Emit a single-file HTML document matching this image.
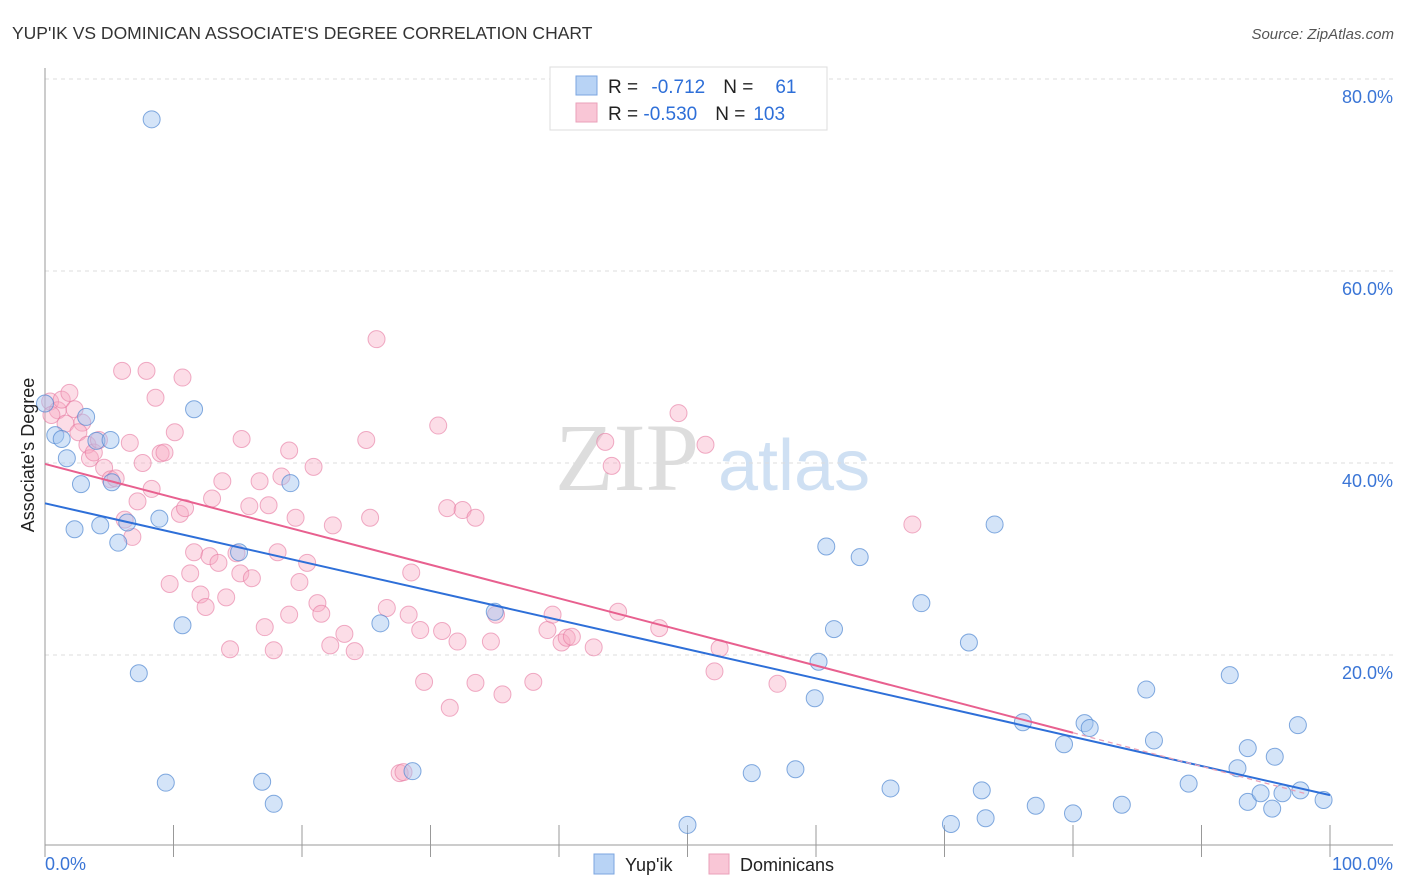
<!DOCTYPE html>
<html><head><meta charset="utf-8">
<style>
body{margin:0;background:#fff;font-family:"Liberation Sans",sans-serif;}
#wrap{position:relative;width:1406px;height:892px;overflow:hidden}
</style></head>
<body>
<div id="wrap">
<svg id="svg" width="1406" height="892" xmlns="http://www.w3.org/2000/svg">
<text x="12" y="39" font-size="17.5" fill="#333">YUP'IK VS DOMINICAN ASSOCIATE'S DEGREE CORRELATION CHART</text>
<text x="1394" y="39" font-size="15" fill="#555" font-style="italic" text-anchor="end">Source: ZipAtlas.com</text>
<text x="555" y="490" font-size="96" fill="#ddd" font-family="Liberation Serif,serif">ZIP</text>
<text x="718" y="490" font-size="72" fill="#cfe0f3">atlas</text>
<g id="grid"></g>
<g id="axes"></g>
<g id="pts"></g>
<g id="lines"></g>
<text transform="translate(34,455) rotate(-90)" font-size="18" fill="#222" text-anchor="middle">Associate's Degree</text>
<g>
<rect x="550" y="67" width="277" height="63" fill="#fff" stroke="#ddd"/>
<rect x="576" y="76" width="21" height="19" fill="#b8d3f5" stroke="#7ba6e0"/>
<rect x="576" y="103" width="21" height="19" fill="#f9c6d6" stroke="#eaa0ba"/>
<text x="608" y="93" font-size="19" fill="#222">R = <tspan fill="#2e6fd8" dx="8">-0.712</tspan><tspan dx="18" fill="#222">N =</tspan><tspan dx="22" fill="#2e6fd8">61</tspan></text>
<text x="608" y="120" font-size="19" fill="#222">R = <tspan fill="#2e6fd8">-0.530</tspan><tspan dx="18" fill="#222">N =</tspan><tspan dx="8" fill="#2e6fd8">103</tspan></text>
</g>
<g>
<rect x="594" y="854" width="20" height="20" fill="#b8d3f5" stroke="#7ba6e0"/>
<text x="625" y="871" font-size="18" fill="#222">Yup'ik</text>
<rect x="709" y="854" width="20" height="20" fill="#f9c6d6" stroke="#eaa0ba"/>
<text x="740" y="871" font-size="18" fill="#222">Dominicans</text>
</g>
</svg>
</div>
<script>
const yTicks=[20,40,60,80];
const yTickLabels=["20.0%","40.0%","60.0%","80.0%"];
const xTickVals=[0,10,20,30,40,50,60,70,80,90,100];
const yupikX=[8.3,0,0.8,1.3,1.7,3.2,4.0,5.1,2.8,5.2,2.3,4.3,5.7,6.4,8.9,11.6,15.1,19.1,10.7,7.3,9.4,16.9,17.8,26.1,28.6,35.0,50.0,55.0,58.4,59.9,60.2,60.8,61.4,63.4,65.8,68.2,70.5,71.9,72.9,73.2,73.9,76.1,77.1,79.3,80.0,80.9,81.3,83.8,85.7,86.3,89.0,92.2,92.8,93.6,93.6,94.6,95.5,95.7,96.3,97.5,97.7,99.5];
const yupikY=[75.8,46.2,42.9,42.5,40.5,44.8,42.3,42.4,37.8,38.0,33.1,33.5,31.7,33.8,34.2,45.6,30.7,37.9,23.1,18.1,6.7,6.8,4.5,23.3,7.9,24.5,2.3,7.7,8.1,15.5,19.3,31.3,22.7,30.2,6.1,25.4,2.4,21.3,5.9,3.0,33.6,13.0,4.3,10.7,3.5,12.9,12.4,4.4,16.4,11.1,6.6,17.9,8.2,4.7,10.3,5.6,4.0,9.4,5.6,12.7,5.9,4.9];
const domX=[0.4,1.0,0.5,1.3,1.9,2.3,1.6,2.9,2.6,3.3,3.5,3.8,4.2,4.6,5.1,5.5,6.2,6.8,6.6,6.0,7.9,8.6,7.6,8.3,7.2,9.0,9.3,10.1,10.7,10.5,10.9,9.7,11.6,11.3,12.1,12.5,13.0,12.8,13.5,13.8,14.1,14.4,14.9,15.2,15.3,15.9,16.1,16.7,17.1,17.4,17.8,18.1,18.4,19.0,19.0,19.5,19.8,20.4,20.9,21.2,21.5,22.2,22.4,23.3,24.1,25.0,25.3,25.8,26.6,27.6,27.9,28.3,28.5,29.2,29.5,30.6,30.9,31.3,31.5,32.1,32.5,33.5,33.5,34.7,35.1,35.6,38.0,39.1,39.5,40.2,40.6,41.0,42.7,43.6,44.1,44.6,47.8,49.3,51.4,52.1,52.5,57.0,67.5];
const domY=[46.4,45.5,45.0,46.6,47.3,45.6,44.1,44.2,43.2,41.9,40.5,41.1,42.4,39.5,38.3,38.4,34.1,32.3,42.1,49.6,49.6,46.8,40.0,37.3,36.0,41.0,41.1,43.2,48.9,34.7,35.3,27.4,30.7,28.5,26.3,25.0,36.3,30.3,29.6,38.1,26.0,20.6,30.6,28.5,42.5,35.5,28.0,38.1,22.9,35.6,20.5,30.7,38.6,24.2,41.3,34.3,27.6,29.6,39.6,25.4,24.3,21.0,33.5,22.2,20.4,42.4,34.3,52.9,24.9,7.7,7.8,24.2,28.6,22.6,17.2,43.9,22.5,35.3,14.5,21.4,35.1,34.3,17.1,21.4,24.2,15.9,17.2,22.6,24.2,21.3,21.8,21.9,20.8,42.2,39.7,24.5,22.8,45.2,41.9,18.3,20.7,17.0,33.6];
const yupikTrend=[35.8,5.4];
const domTrend=[39.9,4.9];
const NS="http://www.w3.org/2000/svg";
const X=v=>45+v*12.85, Y=v=>847-v*9.6;
function mk(tag,attrs,parent){const e=document.createElementNS(NS,tag);for(const k in attrs)e.setAttribute(k,attrs[k]);parent.appendChild(e);return e;}
const grid=document.getElementById('grid'),axes=document.getElementById('axes'),pts=document.getElementById('pts'),lines=document.getElementById('lines');
yTicks.forEach((t,i)=>{
 const l=mk('line',{x1:45,x2:1393,y1:Y(t),y2:Y(t),stroke:'#ddd','stroke-dasharray':'4,4'},grid);
 
 
 const tx=mk('text',{x:1393,y:Y(t)+24,'font-size':18,fill:'#3a75d6','text-anchor':'end'},axes);
 tx.textContent=yTickLabels[i];
 
 
});
const la=mk('line',{x1:45,x2:45,y1:68,y2:845,stroke:'#999'},axes);


const ba=mk('line',{x1:45,x2:1393,y1:845,y2:845,stroke:'#999'},axes);


xTickVals.forEach(v=>{
 const t=mk('line',{x1:X(v),x2:X(v),y1:825,y2:845+12,stroke:'#999'},axes);
 
 
});
const x0=mk('text',{x:45,y:870,'font-size':18,fill:'#3a75d6'},axes);x0.textContent='0.0%';


const x1=mk('text',{x:1393,y:870,'font-size':18,fill:'#3a75d6','text-anchor':'end'},axes);x1.textContent='100.0%';


domX.forEach((v,i)=>{
 const c=mk('circle',{cx:X(v),cy:Y(domY[i]),r:8.5,fill:'rgba(247,170,196,0.4)',stroke:'rgba(230,120,160,0.6)','stroke-width':1},pts);
 
 
});
yupikX.forEach((v,i)=>{
 const c=mk('circle',{cx:X(v),cy:Y(yupikY[i]),r:8.5,fill:'rgba(160,196,240,0.45)',stroke:'rgba(80,135,210,0.7)','stroke-width':1},pts);
 
 
});
const bl=mk('line',{x1:X(0),y1:Y(yupikTrend[0]),x2:X(100),y2:Y(yupikTrend[1]),stroke:'#2e6fd8','stroke-width':2},lines);


const dAt=x=>domTrend[0]+(domTrend[1]-domTrend[0])*x/100;
const pl=mk('line',{x1:X(0),y1:Y(dAt(0)),x2:X(80),y2:Y(dAt(80)),stroke:'#e8608f','stroke-width':2},lines);


const pd=mk('line',{x1:X(80),y1:Y(dAt(80)),x2:X(98),y2:Y(dAt(98)),stroke:'#e8a0b8','stroke-width':1.3,'stroke-dasharray':'5,4'},lines);


</script>
</body></html>
